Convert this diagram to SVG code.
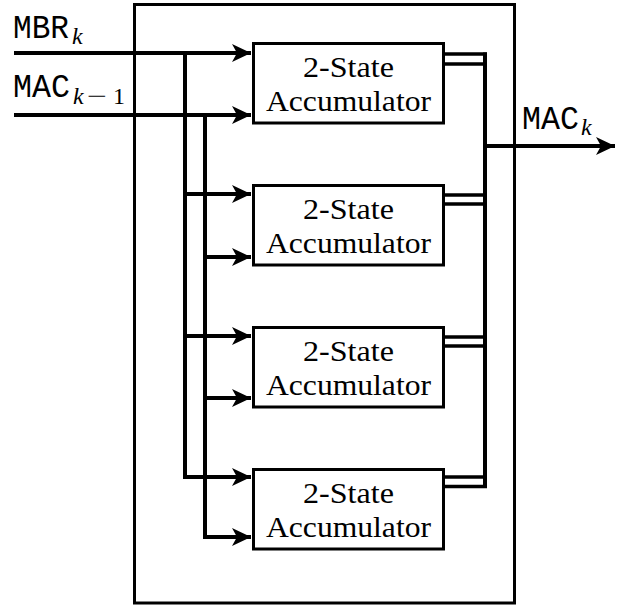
<svg xmlns="http://www.w3.org/2000/svg" width="617" height="606" viewBox="0 0 617 606">
<defs>
<marker id="ah" markerUnits="userSpaceOnUse" markerWidth="20" markerHeight="20" viewBox="-19 -10 20 20" refX="0" refY="0" orient="auto">
<path d="M0,0 L-19,-9 L-14,0 L-19,9 Z" fill="#000"/>
</marker>
<style>
.box{fill:#fff;stroke:#000;stroke-width:3}
.w{fill:none;stroke:#000;stroke-width:4}
.d{fill:none;stroke:#000;stroke-width:3.5}
.lbl{font-family:"Liberation Serif","Times New Roman",serif;font-size:30px;text-anchor:middle;fill:#000}
.tt{font-family:"Liberation Mono","DejaVu Sans Mono",monospace;font-size:33px;fill:#000}
.sub{font-family:"Liberation Serif",serif;font-style:italic;font-size:24px;fill:#000}
.subr{font-family:"Liberation Serif",serif;font-size:24px;fill:#000}
</style>
</defs>
<rect x="134.5" y="4.5" width="380" height="598.5" fill="none" stroke="#000" stroke-width="3"/>
<g id="connectors">
<path class="w" d="M14,53 H251" marker-end="url(#ah)"/>
<path class="w" d="M14,115 H251" marker-end="url(#ah)"/>
<path class="w" d="M185,53 V477 H251" marker-end="url(#ah)"/>
<path class="w" d="M185,194 H251" marker-end="url(#ah)"/>
<path class="w" d="M185,336 H251" marker-end="url(#ah)"/>
<path class="w" d="M205,115 V537 H251" marker-end="url(#ah)"/>
<path class="w" d="M205,257 H251" marker-end="url(#ah)"/>
<path class="w" d="M205,398 H251" marker-end="url(#ah)"/>
<path class="w" d="M485,52.5 V488"/>
<path class="d" d="M444,54 H487"/>
<path class="d" d="M444,64 H484"/>
<path class="d" d="M444,195 H484"/>
<path class="d" d="M444,204 H484"/>
<path class="d" d="M444,337 H484"/>
<path class="d" d="M444,346 H484"/>
<path class="d" d="M444,477 H484"/>
<path class="d" d="M444,486.5 H487"/>
<path class="w" d="M485,146 H615" marker-end="url(#ah)"/>
</g>
<g id="acc1">
<rect class="box" x="253.5" y="43.5" width="190" height="79.5"/>
<text class="lbl" x="348.5" y="77" textLength="91" lengthAdjust="spacingAndGlyphs">2-State</text>
<text class="lbl" x="348.5" y="110.5" textLength="165" lengthAdjust="spacingAndGlyphs">Accumulator</text>
</g>
<g id="acc2">
<rect class="box" x="253.5" y="185.5" width="190" height="79.5"/>
<text class="lbl" x="348.5" y="219" textLength="91" lengthAdjust="spacingAndGlyphs">2-State</text>
<text class="lbl" x="348.5" y="252.5" textLength="165" lengthAdjust="spacingAndGlyphs">Accumulator</text>
</g>
<g id="acc3">
<rect class="box" x="253.5" y="327.5" width="190" height="79.5"/>
<text class="lbl" x="348.5" y="361" textLength="91" lengthAdjust="spacingAndGlyphs">2-State</text>
<text class="lbl" x="348.5" y="394.5" textLength="165" lengthAdjust="spacingAndGlyphs">Accumulator</text>
</g>
<g id="acc4">
<rect class="box" x="253.5" y="469.5" width="190" height="79.5"/>
<text class="lbl" x="348.5" y="503" textLength="91" lengthAdjust="spacingAndGlyphs">2-State</text>
<text class="lbl" x="348.5" y="536.5" textLength="165" lengthAdjust="spacingAndGlyphs">Accumulator</text>
</g>
<g id="labels">
<text class="tt" x="13" y="38" textLength="56" lengthAdjust="spacingAndGlyphs">MBR</text>
<text class="sub" x="72" y="44">k</text>
<text class="tt" x="13" y="97" textLength="57" lengthAdjust="spacingAndGlyphs">MAC</text>
<text class="sub" x="73" y="104">k</text>
<text class="subr" x="87" y="104" textLength="20" lengthAdjust="spacingAndGlyphs">−</text>
<text class="subr" x="113" y="104">1</text>
<text class="tt" x="522" y="129" textLength="57" lengthAdjust="spacingAndGlyphs">MAC</text>
<text class="sub" x="581" y="135">k</text>
</g>
</svg>
